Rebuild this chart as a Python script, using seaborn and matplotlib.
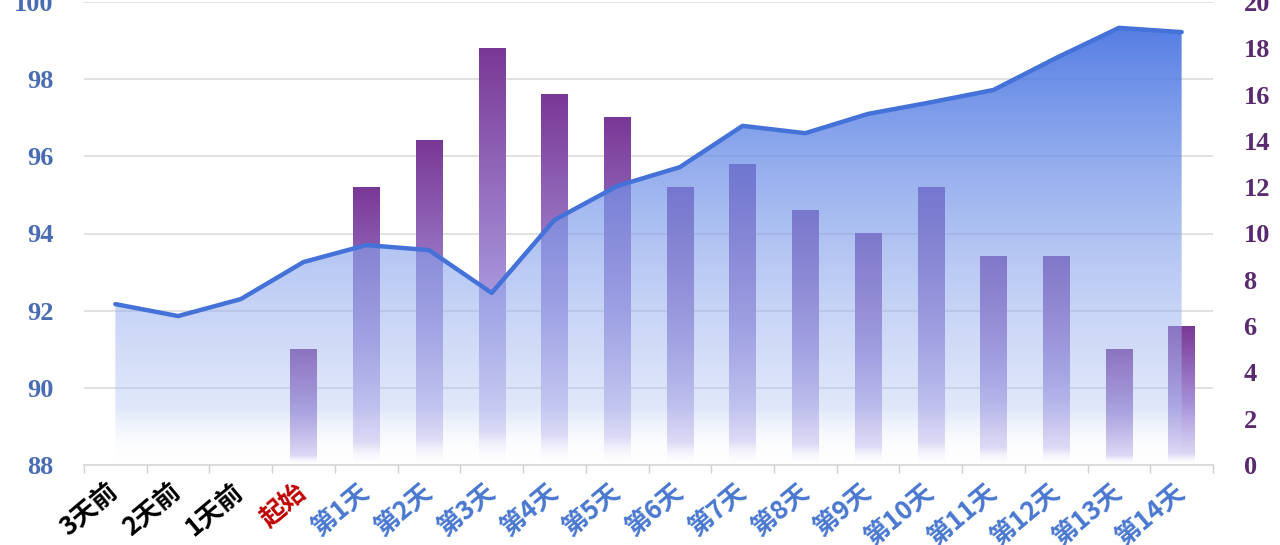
import numpy as np
import pandas as pd
import seaborn as sns
import matplotlib.pyplot as plt
from matplotlib.colors import LinearSegmentedColormap

# categories along the x axis
days = ['3天前', '2天前', '1天前', '起始'] + ['第%d天' % i for i in range(1, 15)]
label_colors = ['black'] * 3 + ['#c00000'] + ['#4a78d0'] * 14

# line / area series (left axis, 88-100)
scores = [92.17, 91.86, 92.30, 93.26, 93.70, 93.57, 92.46, 94.35, 95.23,
          95.72, 96.79, 96.60, 97.10, 97.40, 97.72, 98.55, 99.33, 99.22]

# bar series (right axis, 0-20), starts at 起始
bar_days = days[3:]
bar_vals = [5, 12, 14, 18, 16, 15, 12, 13, 11, 10, 12, 9, 9, 5, 6]

sns.set_theme(style='white')
plt.rcParams['font.family'] = ['Noto Sans CJK SC', 'DejaVu Sans']

fig = plt.figure(figsize=(12.8, 5.45), dpi=100)
ax1 = fig.add_axes([84 / 1280, 1 - 465 / 545, 1129 / 1280, 463 / 545])
ax2 = ax1.twinx()   # bars
ax3 = ax1.twinx()   # area + line, drawn on top of the bars

grad = np.linspace(0, 1, 256).reshape(-1, 1)

# bars with a purple fade
bar_cmap = LinearSegmentedColormap.from_list(
    'bars', [(0.0, (1, 1, 1, 0)), (0.08, '#dcd8f6'), (0.45, '#a590d8'),
             (1.0, '#7a3896')])
df = pd.DataFrame({'day': bar_days, 'n': bar_vals})
sns.barplot(data=df, x='day', y='n', order=days, width=0.42, color='#7a3896', ax=ax2)
for p in list(ax2.patches):
    x0, w, h = p.get_x(), p.get_width(), p.get_height()
    ax2.imshow(grad, extent=[x0, x0 + w, 0, h], origin='lower', aspect='auto',
               cmap=bar_cmap, zorder=2)
    p.set_facecolor('none')
    p.set_edgecolor('none')

# area with a blue fade, then the line
xpos = np.arange(len(days))
area_cmap = LinearSegmentedColormap.from_list(
    'area', [(0.0, (1, 1, 1, 0)), (0.12, (0.70, 0.77, 0.95, 0.4)),
             (1.0, (0.24, 0.42, 0.88, 0.95))])
poly = ax3.fill_between(xpos, scores, 88, color='none', lw=0)
img = ax3.imshow(grad, extent=[0, len(days) - 1, 88, 100], origin='lower',
                 aspect='auto', cmap=area_cmap, zorder=2)
img.set_clip_path(poly.get_paths()[0], transform=ax3.transData)
sns.lineplot(x=xpos, y=scores, ax=ax3, color='#4472d8', lw=3.2, sort=False, zorder=4)

# limits
ax1.set_xlim(-0.5, len(days) - 0.5)
ax1.set_ylim(88, 100)
ax3.set_ylim(88, 100)
ax2.set_ylim(0, 20)

# left axis
ax1.set_yticks(np.arange(88, 101, 2))
ax1.yaxis.grid(True, color='#dcdcdc', lw=1.2)
ax1.set_axisbelow(True)
ax1.tick_params(axis='y', length=0, pad=22, labelsize=19, labelcolor='#4a6cb3')
for t in ax1.get_yticklabels():
    t.set_fontfamily('Liberation Serif')
    t.set_fontweight('bold')

# x axis
ax1.set_xticks(xpos, labels=days)
ax1.set_xticks(np.arange(-0.5, len(days), 1), minor=True)
ax1.tick_params(axis='x', which='major', length=0, pad=17)
ax1.tick_params(axis='x', which='minor', length=6, width=1, color='#d0d0d0',
                direction='out', bottom=True)
for t, c in zip(ax1.get_xticklabels(), label_colors):
    t.set_color(c)
    t.set_fontsize(18.5)
    t.set_fontweight('bold')
    t.set_rotation(40)
    t.set_ha('right')
    t.set_va('center')
    t.set_rotation_mode('anchor')
for s in ['top', 'left', 'right']:
    ax1.spines[s].set_visible(False)
ax1.spines['bottom'].set_color('#d9d9d9')
ax1.set_xlabel('')

# right axis
ax2.set_yticks(np.arange(0, 21, 2))
ax2.tick_params(axis='y', length=0, pad=22, labelsize=19, labelcolor='#5a2a70')
for t in ax2.get_yticklabels():
    t.set_fontfamily('Liberation Serif')
    t.set_fontweight('bold')
ax2.set_ylabel('')
for s in ax2.spines.values():
    s.set_visible(False)

ax3.set_axis_off()

fig.savefig('out.png', dpi=100)
